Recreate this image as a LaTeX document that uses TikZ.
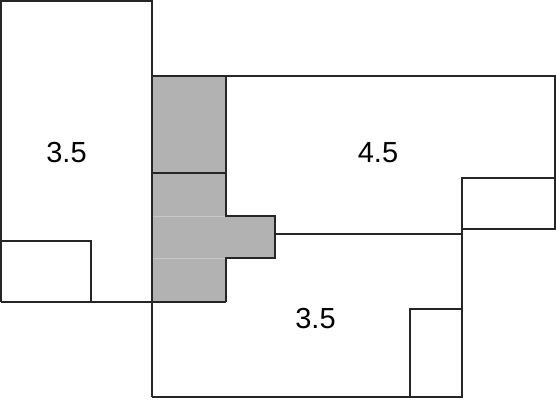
\documentclass[tikz,border=0pt]{standalone}
\usepackage{fontspec}
\setmainfont{Liberation Sans}
\begin{document}
\begin{tikzpicture}
[x=1pt, y=-1pt,
wall/.style={draw=black!85, line width=1.8pt, line join=miter},
stairs/.style={fill=black!30},
seam/.style={draw=black!22, line width=0.6pt},
roomlabel/.style={font=\fontsize{29}{34}\selectfont, inner sep=0pt},
]
\useasboundingbox (0,0) rectangle (556,400);

% shaded core
\fill[stairs] (152,76) -- (226,76) -- (226,216) -- (275,216) -- (275,258) -- (226,258) -- (226,302) -- (152,302) -- cycle;
\draw[seam] (152,216) -- (226,216);
\draw[seam] (152,258) -- (226,258);

% left room
\draw[wall] (1,302) -- (1,1) -- (152,1) -- (152,397);
\draw[wall] (1,302) -- (226,302);
\draw[wall] (1,241) -- (91,241) -- (91,302);

% core outline
\draw[wall] (152,76) -- (226,76) -- (226,216) -- (275,216) -- (275,258) -- (226,258) -- (226,302);
\draw[wall] (152,173) -- (226,173);

% upper right room
\draw[wall] (226,76) -- (555,76) -- (555,229) -- (462,229);
\draw[wall] (462,229) -- (462,178) -- (555,178);
\draw[wall] (275,234) -- (462,234);

% lower room
\draw[wall] (152,397) -- (462,397) -- (462,229);
\draw[wall] (410,397) -- (410,309) -- (462,309);

% labels
\node[roomlabel] (left) at (66.5,153) {3.5};
\node[roomlabel] (upper) at (378,153) {4.5};
\node[roomlabel] (lower) at (315.5,318.5) {3.5};
\end{tikzpicture}
\end{document}
